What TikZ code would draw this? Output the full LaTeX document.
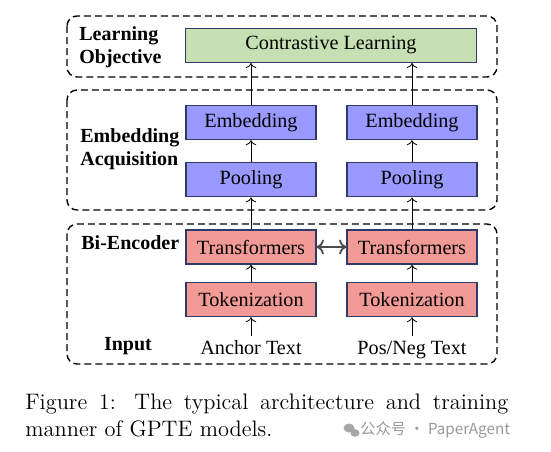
\documentclass[tikz,border=0pt]{standalone}
\usepackage{fontspec}
\newfontfamily\timesfont{Liberation Serif}
\newfontfamily\cjkfont{Noto Sans CJK SC}
\usetikzlibrary{arrows.meta}
\definecolor{clgreen}{HTML}{C6E0B4}
\definecolor{embblue}{HTML}{9999FF}
\definecolor{encred}{HTML}{F19A96}
\definecolor{boxedge}{HTML}{2F3B66}
\begin{document}
\begin{tikzpicture}[x=0.5pt, y=-0.5pt, >=To,
    stage/.style={draw, line width=0.7pt, rounded corners=5pt, dash pattern=on 3.5pt off 2pt},
    block/.style={draw=boxedge, line width=0.7pt, minimum width=65pt, minimum height=17pt,
        inner sep=0pt, font=\timesfont\fontsize{10.1}{12}\selectfont},
    tag/.style={font=\timesfont\bfseries\fontsize{10}{11.5}\selectfont, align=left, inner sep=0pt},
    intext/.style={font=\timesfont\fontsize{10.1}{12}\selectfont, inner sep=2pt, anchor=base}]
    \useasboundingbox (0,0) rectangle (551,451);
    % dashed stages
    \draw[stage] (67,16) rectangle (497,77);
    \draw[stage] (67,90) rectangle (497,210);
    \draw[stage] (67,224) rectangle (497,364);
    \node[tag, anchor=west] (objtag) at (79,47) {Learning\\Objective};
    \node[tag, anchor=west] (acqtag) at (80,149) {Embedding\\Acquisition};
    \node[tag, anchor=west] (enctag) at (81,243) {Bi-Encoder};
    \node[tag] (intag) at (128,346) {Input};
    % blocks
    \node[block, fill=clgreen, minimum width=145.5pt] (cl) at (331,45.3) {Contrastive Learning};
    \foreach \s/\x in {L/251,R/412} {
        \node[block, fill=embblue] (emb\s) at (\x,122.5) {Embedding};
        \node[block, fill=embblue] (pool\s) at (\x,179.7) {Pooling};
        \node[block, fill=encred] (tr\s) at (\x,247) {Transformers};
        \node[block, fill=encred] (tok\s) at (\x,299.5) {Tokenization};
    }
    \node[intext] (txtL) at (251,354) {Anchor Text};
    \node[intext] (txtR) at (412,354) {Pos/Neg Text};
    \foreach \s in {L,R} {
        \draw[->] (txt\s) -- (tok\s);
        \draw[->] (tok\s) -- (tr\s);
        \draw[->] (tr\s) -- (pool\s);
        \draw[->] (pool\s) -- (emb\s);
        \draw[->] (emb\s.north) -- (emb\s.north |- cl.south);
    }
    \draw[<->, line width=0.9pt, draw=black!70] (trL) -- (trR);
    % caption and mark
    \node[anchor=north west, text width=241.5pt, align=justify, inner sep=0pt,
        font=\fontsize{11.2}{13.5}\selectfont] (caption) at (25,394)
        {Figure 1: The typical architecture and training manner of GPTE models.};
    \fill[black!35] (349,428) ellipse (5.5 and 4.5);
    \fill[black!35] (355,433) ellipse (4.5 and 3.8);
    \node[anchor=west, inner sep=0pt, text=black!40, font=\cjkfont\fontsize{7.6}{9}\selectfont]
        (mark) at (360,430) {公众号 · PaperAgent};
\end{tikzpicture}
\end{document}
